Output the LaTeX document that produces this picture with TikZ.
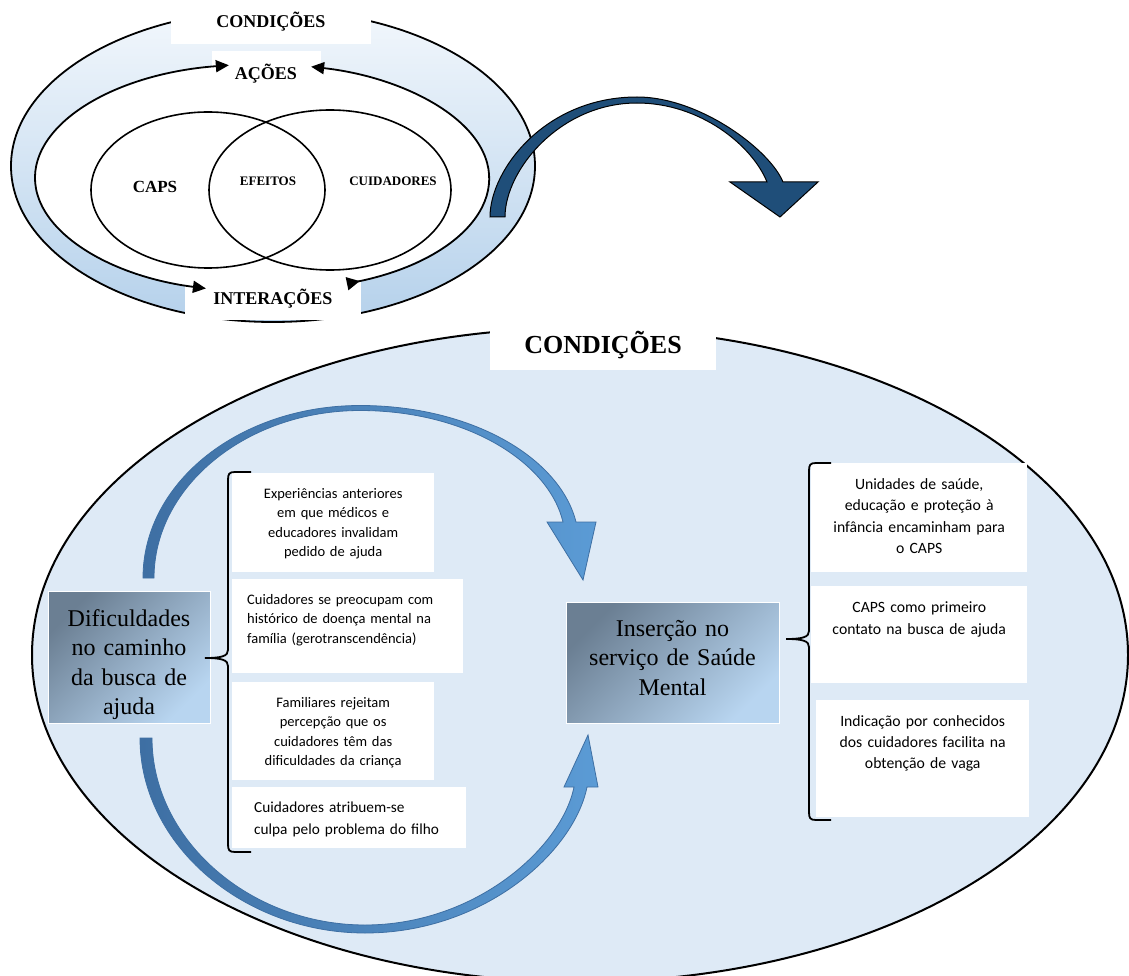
\documentclass[tikz,border=0pt]{standalone}
\usepackage{fontspec}
\setmainfont{Liberation Serif}
\newfontfamily\calibri{Carlito}
\usetikzlibrary{arrows.meta}

\definecolor{ringtop}{HTML}{F2F7FC}
\definecolor{ringblue}{HTML}{B5D1EB}
\definecolor{fieldblue}{HTML}{DEEAF6}
\definecolor{navy}{HTML}{1F4E79}
\definecolor{steel}{HTML}{3E6FA3}
\definecolor{sky}{HTML}{5B9BD5}
\definecolor{slate}{HTML}{6B7F93}
\definecolor{pale}{HTML}{B8D5F0}

\tikzstyle{tag} = [rectangle, fill=white, inner sep=0pt, font=\bfseries\fontsize{18}{20}\selectfont]
\tikzstyle{card} = [rectangle, fill=white, inner sep=0pt, anchor=north west]
\tikzstyle{stage} = [rectangle, draw=white, thick, top color=slate, bottom color=pale, shading angle=45, inner sep=0pt, align=center, font=\fontsize{24}{29.5}\selectfont]
\tikzstyle{ring} = [draw=black, line width=1.8pt]
\tikzstyle{brace} = [draw=black, line width=1.8pt]
\tikzstyle{smalltext} = [font=\calibri\fontsize{14.5}{19.5}\selectfont]
\tikzstyle{bigtext} = [font=\calibri\fontsize{15.7}{21.5}\selectfont]
\tikzstyle{band} = [draw=steel, line width=0.8pt, left color=steel, right color=sky]

\begin{document}
\begin{tikzpicture}[x=1pt, y=-1pt]
    \useasboundingbox (0,0) rectangle (1129,976);

    % model
    \draw[ring, top color=ringtop, bottom color=ringblue] (273,166) ellipse [x radius=262, y radius=156];
    \fill[white] (262,178) ellipse [x radius=227, y radius=114];
    \node[tag, minimum width=200, minimum height=44] (cond) at (271,22) {CONDIÇÕES};
    \node[tag, minimum width=109, minimum height=45] (acoes) at (266,74) {AÇÕES};
    \node[tag, minimum width=176, minimum height=42] (inter) at (273,299) {INTERAÇÕES};
    \draw[ring, {Triangle[length=13pt, width=12pt]}-{Triangle[length=13pt, width=12pt]}] (262,178) ++(261.6:227 and 114) arc[start angle=261.6, end angle=104.3, x radius=227, y radius=114];
    \draw[ring, {Triangle[reversed, length=13pt, width=13pt]}-{Triangle[length=13pt, width=12pt]}] (262,178) ++(68:227 and 114) arc[start angle=68, end angle=-77.5, x radius=227, y radius=114];
    \draw[ring, line width=1.6pt] (208,190) ellipse [x radius=117, y radius=78];
    \draw[ring, line width=1.6pt] (330,190) ellipse [x radius=121, y radius=80];
    \node[font=\bfseries\fontsize{17}{20}\selectfont] (caps) at (155,187) {CAPS};
    \node[font=\bfseries\fontsize{13}{15}\selectfont] (efeitos) at (268,181) {EFEITOS};
    \node[font=\bfseries\fontsize{13}{15}\selectfont] (cuid) at (393,181) {CUIDADORES};

    % link
    \filldraw[fill=navy, draw=black, line width=1pt] (490,217) .. controls (490,170) and (545,97) .. (637,97) .. controls (700,97) and (770,150) .. (783,182) -- (818,182) -- (780,217) -- (730,182) -- (767,182) .. controls (752,145) and (700,103) .. (637,103) .. controls (560,103) and (505,170) .. (505,217) -- cycle;

    % field
    \draw[line width=2pt, fill=fieldblue] (580,655) ellipse [x radius=548, y radius=327];
    \node[tag, minimum width=226, minimum height=50, font=\bfseries\fontsize{26}{28}\selectfont] (cond2) at (603,345) {CONDIÇÕES};

    % cycle
    \path[band] (143,578) .. controls (143,482) and (240,405.5) .. (360,405.5) .. controls (472,405.5) and (560,458) .. (576,522) -- (596,522) -- (583,580) -- (547,522) -- (563,522) .. controls (549,463) and (468,410.5) .. (360,410.5) .. controls (247,410.5) and (154,486) .. (154,578) -- cycle;
    \path[band] (140,738) .. controls (140,846) and (245,933) .. (365,933) .. controls (484,933) and (574,852) .. (587,787) -- (598,787) -- (588,735) -- (564,787) -- (574,787) .. controls (562,847) and (476,925) .. (365,925) .. controls (250,925) and (152,840) .. (152,738) -- cycle;

    % blocks
    \node[stage, minimum width=162, minimum height=132, text width=150pt, text height=35pt, text depth=97pt] (dif) at (129,657) {Dificuldades\\no caminho\\da busca de\\ajuda};
    \node[stage, minimum width=213, minimum height=121, text width=205pt, text height=34pt, text depth=87pt] (ins) at (672.5,662.5) {Inserção no\\serviço de Saúde\\Mental};

    \node[card, smalltext, minimum width=202, text width=195pt, align=center, text height=25pt, text depth=74pt] (exp) at (232,473) {Experiências anteriores\\em que médicos e\\educadores invalidam\\pedido de ajuda};
    \node[card, smalltext, minimum width=231, text width=201pt, align=left, text height=25pt, text depth=69pt] (hist) at (232,579) {Cuidadores se preocupam com\\histórico de doença mental na\\família (gerotranscendência)};
    \node[card, smalltext, minimum width=202, text width=195pt, align=center, text height=25pt, text depth=73pt] (fam) at (232,682) {Familiares rejeitam\\percepção que os\\cuidadores têm das\\dificuldades da criança};
    \node[card, font=\calibri\fontsize{15.3}{22}\selectfont, minimum width=234, text width=190pt, align=left, text height=25pt, text depth=36pt] (culpa) at (232,787) {Cuidadores atribuem-se\\culpa pelo problema do filho};

    \node[card, bigtext, minimum width=216, text width=210pt, align=center, text height=26pt, text depth=83pt] (unid) at (811,463) {Unidades de saúde,\\educação e proteção à\\infância encaminham para\\o CAPS};
    \node[card, font=\calibri\fontsize{15.7}{22}\selectfont, minimum width=216, text width=210pt, align=center, text height=26pt, text depth=71pt] (prim) at (811,586) {CAPS como primeiro\\contato na busca de ajuda};
    \node[card, font=\calibri\fontsize{15.7}{21}\selectfont, minimum width=213, text width=207pt, align=center, text height=26pt, text depth=91pt] (indic) at (816,700) {Indicação por conhecidos\\dos cuidadores facilita na\\obtenção de vaga};

    % braces
    \draw[brace] (251,472) -- (235,472) .. controls (229,472) and (228,474) .. (228,480) -- (228,650) .. controls (228,656) and (222,658) .. (205,658) .. controls (222,658) and (228,660) .. (228,666) -- (228,844) .. controls (228,850) and (229,852) .. (235,852) -- (251,852);
    \draw[brace] (831,463) -- (816,463) .. controls (810,463) and (809,465) .. (809,471) -- (809,631) .. controls (809,637) and (803,639) .. (786,639) .. controls (803,639) and (809,641) .. (809,647) -- (809,812) .. controls (809,818) and (810,820) .. (816,820) -- (831,820);
\end{tikzpicture}
\end{document}
